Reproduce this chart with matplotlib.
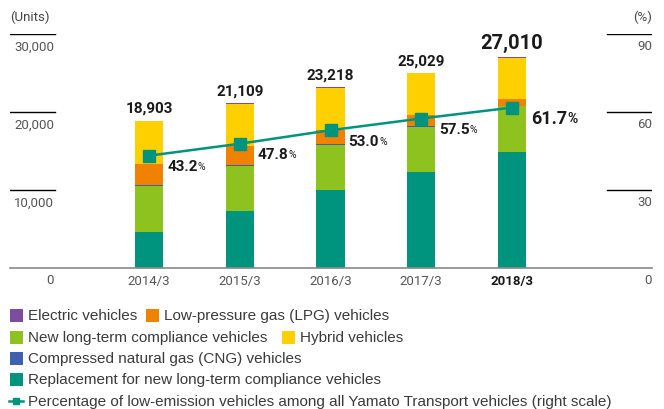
import matplotlib.pyplot as plt
from matplotlib import transforms
from matplotlib.patches import Rectangle
from matplotlib.lines import Line2D

# Data (units)
categories = ['2014/3', '2015/3', '2016/3', '2017/3', '2018/3']
replacement = [4650, 7350, 10000, 12310, 14870]
new_long_term = [5860, 5730, 5770, 5770, 5860]
cng = [150, 150, 120, 100, 40]
lpg = [2700, 2470, 1800, 1450, 940]
hybrid = [5453, 5349, 5438, 5339, 5200]
electric = [90, 60, 90, 60, 100]
totals = [18903, 21109, 23218, 25029, 27010]
pct = [43.2, 47.8, 53.0, 57.5, 61.7]

units_ticks = [10000, 20000, 30000]
pct_ticks = [30, 60, 90]

c_teal = '#00947f'
c_green = '#8dc21f'
c_blue = '#3f5faf'
c_orange = '#f08200'
c_yellow = '#ffd000'
c_purple = '#7e4c9f'

W, H = 664, 410
fig = plt.figure(figsize=(W / 100, H / 100), dpi=100)


def px(x, y):
    return x / W, 1 - y / H


num_font = 'Roboto'
tick_col = '#555555'

ax = fig.add_axes([10 / W, (H - 269) / H, 642 / W, 234 / H])
xs = list(range(len(categories)))
ax.set_xlim((10 - 149) / 90.75, (652 - 149) / 90.75)
ax.set_ylim(0, 30000)

# stacked bars
series = [replacement, new_long_term, cng, lpg, hybrid, electric]
colors = [c_teal, c_green, c_blue, c_orange, c_yellow, c_purple]
bottom = [0] * len(categories)
for vals, col in zip(series, colors):
    ax.bar(xs, vals, bottom=bottom, width=0.31, color=col, zorder=2)
    bottom = [b + v for b, v in zip(bottom, vals)]

# totals above bars
for i, t in enumerate(totals):
    big = i == len(totals) - 1
    ax.annotate(f'{t:,}', xy=(i, t), xytext=(0, 4), textcoords='offset points',
                ha='center', va='bottom', fontfamily=num_font, fontweight='bold',
                fontsize=14.5 if big else 11, color='#1a1a1a', annotation_clip=False)

for s in ['top', 'left', 'right']:
    ax.spines[s].set_visible(False)
ax.spines['bottom'].set_color('#888888')
ax.spines['bottom'].set_linewidth(1.2)
ax.set_yticks([])
ax.set_xticks(xs, categories)
ax.tick_params(axis='x', length=0, pad=4, labelcolor=tick_col, labelsize=9.5)
for lab in ax.get_xticklabels():
    lab.set_fontfamily(num_font)
last = ax.get_xticklabels()[-1]
last.set_fontweight('bold')
last.set_color('#1a1a1a')

for v in units_ticks:
    ax.axhline(v, xmin=0, xmax=45 / 642, color='black', lw=1)

# left tick labels
tr_left = transforms.blended_transform_factory(fig.transFigure, ax.transData)
for v in [0] + units_ticks:
    ax.annotate(f'{v:,}', xy=(54 / W, v), xycoords=tr_left, xytext=(0, -8.6),
                textcoords='offset points', ha='right', va='center',
                fontfamily=num_font, fontsize=9.5, color=tick_col, annotation_clip=False)

# percentage line
ax2 = ax.twinx()
ax2.set_ylim(0, 90)
ax2.set_yticks([])
for s in ax2.spines.values():
    s.set_visible(False)
ax2.plot(xs, pct, color=c_teal, lw=1.8, marker='s', markersize=8.5, zorder=3)

for v in pct_ticks:
    ax2.axhline(v, xmin=597 / 642, xmax=1, color='black', lw=1)

tr_right = transforms.blended_transform_factory(fig.transFigure, ax2.transData)
for v in [0] + pct_ticks:
    ax2.annotate(f'{v}', xy=(652 / W, v), xycoords=tr_right, xytext=(0, -8.6),
                 textcoords='offset points', ha='right', va='center',
                 fontfamily=num_font, fontsize=9.5, color=tick_col, annotation_clip=False)

for i, p in enumerate(pct):
    big = i == len(pct) - 1
    t = ax2.annotate(f'{p:.1f}', xy=(i, p), xytext=(14 if big else 13, -7.5),
                     textcoords='offset points', ha='left', va='center',
                     fontfamily=num_font, fontweight='bold',
                     fontsize=13 if big else 11, color='#1a1a1a')
    ax2.annotate('%', xy=(1, 0.12), xycoords=t, xytext=(0, 0), textcoords='offset points',
                 ha='left', va='bottom', fontfamily=num_font,
                 fontweight='bold' if big else 'normal',
                 fontsize=10 if big else 7.5, color='#1a1a1a')

# axis unit labels
fig.text(*px(10, 17), '(Units)', ha='left', va='center', fontfamily=num_font,
         fontsize=9.5, color='#444444')
fig.text(*px(652, 17), '(%)', ha='right', va='center', fontfamily=num_font,
         fontsize=9.5, color='#444444')

# legend drawn by hand
leg_font = 'Liberation Sans'
leg_size = 11.0
leg_col = '#3a3a3a'


def leg_box(x, y, col, label):
    fx, fy = px(x, y + 6.5)
    fig.add_artist(Rectangle((fx, fy), 13 / W, 13 / H, transform=fig.transFigure,
                             color=col, lw=0))
    fig.text(*px(x + 18, y), label, ha='left', va='center', fontfamily=leg_font,
             fontsize=leg_size, color=leg_col)


leg_box(10, 316, c_purple, 'Electric vehicles')
leg_box(146, 316, c_orange, 'Low-pressure gas (LPG) vehicles')
leg_box(10, 338, c_green, 'New long-term compliance vehicles')
leg_box(282, 338, c_yellow, 'Hybrid vehicles')
leg_box(10, 359, c_blue, 'Compressed natural gas (CNG) vehicles')
leg_box(10, 380, c_teal, 'Replacement for new long-term compliance vehicles')

lx0, ly = px(9, 402)
lx1, _ = px(23, 402)
fig.add_artist(Line2D([lx0, lx1], [ly, ly], transform=fig.transFigure, color=c_teal, lw=1.8))
fig.add_artist(Line2D([(lx0 + lx1) / 2], [ly], transform=fig.transFigure, color=c_teal,
                      marker='s', markersize=4.5, lw=0))
fig.text(*px(28, 402), 'Percentage of low-emission vehicles among all Yamato Transport vehicles (right scale)',
         ha='left', va='center', fontfamily=leg_font, fontsize=leg_size, color=leg_col)

fig.savefig('out.png', dpi=100)
